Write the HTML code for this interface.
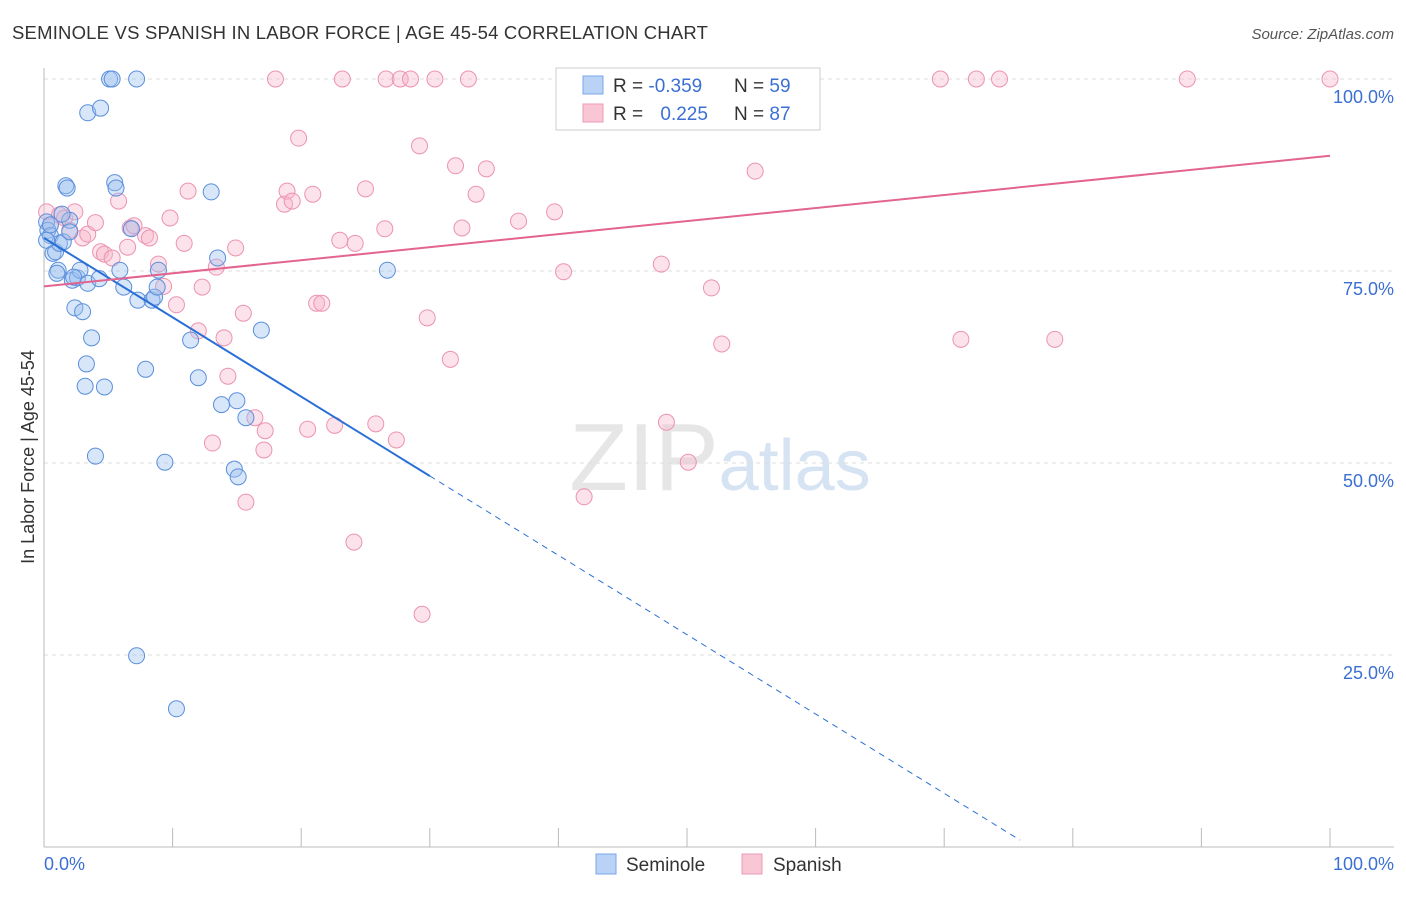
<!DOCTYPE html>
<html><head><meta charset="utf-8">
<style>
body{margin:0;background:#fff;font-family:"Liberation Sans",sans-serif;}
svg text{font-family:"Liberation Sans",sans-serif;}
</style></head>
<body>
<svg id="chart" width="1406" height="892">
<text x="12" y="39" font-size="18.5" letter-spacing="0.2" fill="#333">SEMINOLE VS SPANISH IN LABOR FORCE | AGE 45-54 CORRELATION CHART</text>
<text x="1394" y="39" font-size="15" fill="#555" text-anchor="end" font-style="italic">Source: ZipAtlas.com</text>
<text x="720" y="490" font-size="96" fill="#e6e6e6" text-anchor="middle" font-family="Liberation Serif">ZIP<tspan fill="#d5e3f3" font-family="Liberation Sans" font-size="72">atlas</tspan></text>
<g id="grid"></g>
<g id="axes"></g>
<g id="marks"></g>
<text transform="translate(34,457) rotate(-90)" font-size="18" fill="#333" text-anchor="middle">In Labor Force | Age 45-54</text>
<text x="44" y="870" font-size="18" fill="#3b6fd4">0.0%</text>
<text x="1394" y="870" font-size="18" fill="#3b6fd4" text-anchor="end">100.0%</text>
<g>
<rect x="556" y="68" width="264" height="62" fill="#fff" stroke="#ccc"/>
<rect x="583" y="76" width="20" height="18" fill="#b9d2f5" stroke="#7aa6e6"/>
<rect x="583" y="104" width="20" height="18" fill="#f9c6d6" stroke="#ee9ab5"/>
<text x="613" y="92" font-size="19" fill="#333">R = <tspan fill="#3b6fd4">-0.359</tspan></text>
<text x="734" y="92" font-size="19" fill="#333">N = <tspan fill="#3b6fd4">59</tspan></text>
<text x="613" y="120" font-size="19" fill="#333">R = <tspan fill="#3b6fd4" dx="12">0.225</tspan></text>
<text x="734" y="120" font-size="19" fill="#333">N = <tspan fill="#3b6fd4">87</tspan></text>
</g>
<g>
<rect x="596" y="854" width="20" height="20" fill="#b9d2f5" stroke="#7aa6e6"/>
<text x="626" y="871" font-size="19" fill="#333">Seminole</text>
<rect x="742" y="854" width="20" height="20" fill="#f9c6d6" stroke="#ee9ab5"/>
<text x="773" y="871" font-size="19" fill="#333">Spanish</text>
</g>
</svg>
<script>
const yTicks=[25,50,75,100];
const yTickLabels=["25.0%","50.0%","75.0%","100.0%"];
const xTicks=[0,10,20,30,40,50,60,70,80,90,100];
const seminoleX=[0.2,0.3,0.5,0.7,0.9,1.1,1.0,1.2,1.5,1.7,1.8,2.0,2.2,2.4,2.6,2.8,3.0,3.2,3.3,3.4,3.4,3.7,4.0,4.3,4.4,4.7,5.1,5.3,5.5,5.6,5.9,6.2,6.8,7.2,7.2,7.3,7.9,8.4,8.6,8.8,8.9,9.4,10.3,11.4,12.0,13.0,13.5,13.8,14.8,15.0,15.1,15.7,16.9,26.7,0.2,0.5,1.4,2.0,2.3];
const seminoleY=[81.4,80.3,79.6,77.3,77.5,75.1,74.7,78.6,78.8,86.1,85.8,81.6,73.8,70.2,74.1,75.1,69.7,60.0,62.9,73.4,95.6,66.3,50.9,74.0,96.2,59.9,100,100,86.5,85.8,75.1,72.9,80.5,24.9,100,71.2,62.2,71.2,71.6,72.9,75.1,50.1,18.0,66.0,61.1,85.3,76.7,57.6,49.2,58.1,48.2,55.9,67.3,75.1,79.0,81.0,82.4,80.1,74.2];
const spanishX=[0.2,0.5,1.2,1.6,2.0,2.4,3.0,3.4,4.0,4.4,4.7,5.3,5.8,6.5,6.7,7.0,7.9,8.2,8.9,9.3,9.8,10.3,10.9,11.2,12.0,12.3,13.1,13.4,14.0,14.3,14.9,15.5,15.7,16.4,17.2,17.1,18.0,18.7,18.9,19.3,19.8,20.5,20.9,21.2,21.6,22.6,23.0,23.2,24.1,24.2,25.0,25.8,26.5,26.6,27.4,27.7,28.5,29.2,29.4,29.8,30.4,31.6,32.0,32.5,33.0,33.6,34.4,36.9,39.7,40.4,42.0,46.3,48.0,48.4,50.1,51.9,52.7,55.3,55.8,69.7,71.3,72.5,74.3,78.6,88.9,100];
const spanishY=[82.7,81.0,82.3,81.9,80.3,82.7,79.3,79.8,81.3,77.5,77.2,76.7,84.1,78.1,80.6,80.9,79.6,79.3,75.9,73.0,81.9,70.6,78.6,85.4,67.2,72.9,52.6,75.5,66.3,61.3,78.0,69.5,44.9,55.9,54.2,51.7,100,83.7,85.4,84.1,92.3,54.4,85.0,70.8,70.8,54.9,79.0,100,39.7,78.6,85.7,55.1,80.5,100,53.0,100,100,91.3,30.3,68.9,100,63.5,88.7,80.6,100,85.0,88.3,81.5,82.7,74.9,45.6,100,75.9,55.3,50.1,72.8,65.5,88.0,100,100,66.1,100,100,66.1,100,100];
const seminoleTrend=[79.3,-1.033]; // intercept, slope
const spanishTrend=[73.0,0.17];
const seminoleSolidEnd=30, seminoleDashEnd=75.9;

const NS="http://www.w3.org/2000/svg";
const X=v=>44+v*12.86;
const Y=v=>847-v*7.68;
function mk(tag,attrs,parent){const e=document.createElementNS(NS,tag);for(const k in attrs)e.setAttribute(k,attrs[k]);parent.appendChild(e);return e;}
const grid=document.getElementById('grid'),axes=document.getElementById('axes'),marks=document.getElementById('marks');
yTicks.forEach((t,i)=>{
 const l=mk('line',{x1:44,x2:1394,y1:Y(t),y2:Y(t),stroke:'#ddd','stroke-dasharray':'4,4'},grid);
 
 
 const tx=mk('text',{x:1394,y:Y(t)+24,'font-size':18,fill:'#3b6fd4','text-anchor':'end'},axes);
 tx.textContent=yTickLabels[i];
 
 
});
const ax=mk('line',{x1:44,x2:44,y1:68,y2:847,stroke:'#bbb'},axes);


const bx=mk('line',{x1:44,x2:1394,y1:847,y2:847,stroke:'#bbb'},axes);


xTicks.forEach(t=>{
 const l=mk('line',{x1:X(t),x2:X(t),y1:828,y2:847,stroke:'#bbb'},axes);
 
 
});
function dots(xs,ys,fill,stroke,name){
 xs.forEach((x,i)=>{
  const c=mk('circle',{cx:X(x),cy:Y(ys[i]),r:8,fill:fill,'fill-opacity':0.4,stroke:stroke,'stroke-width':1},marks);
  
  
 });
}
dots(spanishX,spanishY,'#f7b6ca','#ec93b0','spanish-point');
dots(seminoleX,seminoleY,'#9cc0ef','#5b8fdc','seminole-point');
const st=(t,x)=>t[0]+t[1]*x;
const l1=mk('line',{x1:X(0),y1:Y(st(seminoleTrend,0)),x2:X(seminoleSolidEnd),y2:Y(st(seminoleTrend,seminoleSolidEnd)),stroke:'#2a6fd6','stroke-width':2},marks);


const l2=mk('line',{x1:X(seminoleSolidEnd),y1:Y(st(seminoleTrend,seminoleSolidEnd)),x2:X(seminoleDashEnd),y2:Y(st(seminoleTrend,seminoleDashEnd)),stroke:'#2a6fd6','stroke-width':1,'stroke-dasharray':'6,5'},marks);


const l3=mk('line',{x1:X(0),y1:Y(st(spanishTrend,0)),x2:X(100),y2:Y(st(spanishTrend,100)),stroke:'#e3648f','stroke-width':2},marks);


</script>
</body></html>
